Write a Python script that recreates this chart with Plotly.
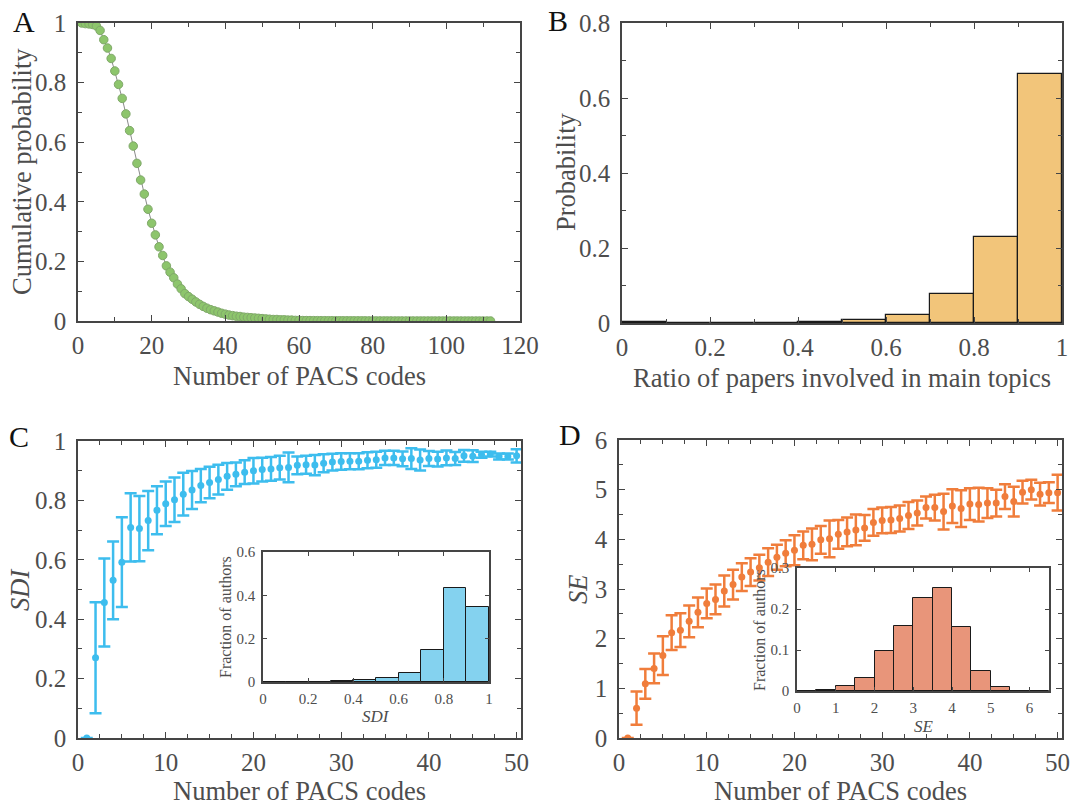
import plotly.graph_objects as go

W, H = 1075, 805
FONT = "Liberation Serif, Times New Roman, Times, serif"

# ---------------- data ----------------
# Panel A: cumulative probability vs number of PACS codes
a_x = list(range(1, 113))
a_y = [1.0, 0.998, 0.997, 0.995, 0.99, 0.975, 0.944, 0.916, 0.881, 0.839,
       0.794, 0.747, 0.695, 0.639, 0.587, 0.529, 0.473, 0.426, 0.375, 0.328,
       0.289, 0.249, 0.22, 0.185, 0.164, 0.145, 0.124, 0.108, 0.092, 0.082,
       0.073, 0.064, 0.056, 0.049, 0.043, 0.038, 0.034, 0.030, 0.026, 0.023,
       0.020, 0.018, 0.016, 0.015, 0.013, 0.012, 0.011, 0.010, 0.009, 0.008,
       0.007, 0.006, 0.005, 0.005, 0.004, 0.004, 0.003, 0.003, 0.002, 0.002,
       0.0015, 0.0014, 0.0013, 0.0012, 0.0011, 0.001, 0.001, 0.0009, 0.0009, 0.0008,
       0.0008, 0.0007, 0.0007, 0.0006, 0.0006, 0.0005, 0.0005, 0.0005, 0.0004, 0.0004,
       0.0004, 0.0003, 0.0003, 0.0003, 0.0003, 0.0002, 0.0002, 0.0002, 0.0002, 0.0002,
       0.0002, 0.0001, 0.0001, 0.0001, 0.0001, 0.0001, 0.0001, 0.0001, 0.0001, 0.0001,
       0.0001, 0.0001, 0.0001, 0.0, 0.0, 0.0, 0.0, 0.0, 0.0, 0.0,
       0.0, 0.0]

# Panel B: histogram of ratio of papers involved in main topics
b_bins = [0.05, 0.15, 0.25, 0.35, 0.45, 0.55, 0.65, 0.75, 0.85, 0.95]
b_prob = [0.002, 0.001, 0.001, 0.001, 0.002, 0.007, 0.022, 0.078, 0.229, 0.665]

# Panel C: SDI mean and error vs number of PACS codes
c_x = list(range(1, 51))
c_mean = [0, 0.27, 0.456, 0.531, 0.592, 0.709, 0.705, 0.732, 0.767, 0.789,
          0.802, 0.821, 0.835, 0.85, 0.86, 0.87, 0.881, 0.888, 0.895, 0.9,
          0.904, 0.906, 0.91, 0.911, 0.918, 0.92, 0.919, 0.925, 0.929, 0.931,
          0.932, 0.932, 0.935, 0.937, 0.943, 0.943, 0.94, 0.941, 0.936, 0.941,
          0.939, 0.943, 0.941, 0.95, 0.949, 0.954, 0.956, 0.948, 0.948, 0.95]
c_err = [0, 0.187, 0.148, 0.131, 0.151, 0.115, 0.11, 0.1, 0.081, 0.075,
         0.075, 0.072, 0.064, 0.056, 0.053, 0.05, 0.045, 0.04, 0.04, 0.043,
         0.04, 0.04, 0.04, 0.05, 0.03, 0.03, 0.034, 0.03, 0.028, 0.028,
         0.027, 0.027, 0.027, 0.027, 0.024, 0.024, 0.025, 0.035, 0.035, 0.025,
         0.025, 0.025, 0.022, 0.02, 0.02, 0.01, 0.008, 0.01, 0.01, 0.022]

# Panel C inset: distribution of SDI
ci_bins = [0.05, 0.15, 0.25, 0.35, 0.45, 0.55, 0.65, 0.75, 0.85, 0.95]
ci_frac = [0.001, 0.001, 0.002, 0.004, 0.008, 0.019, 0.04, 0.148, 0.435, 0.344]

# Panel D: SE mean and error vs number of PACS codes
d_x = list(range(1, 51))
d_mean = [0, 0.60, 1.09, 1.40, 1.66, 2.12, 2.17, 2.35, 2.53, 2.71,
          2.79, 2.96, 3.09, 3.24, 3.34, 3.43, 3.54, 3.64, 3.72, 3.78,
          3.88, 3.90, 3.99, 4.01, 4.10, 4.15, 4.19, 4.23, 4.34, 4.38,
          4.39, 4.42, 4.48, 4.53, 4.64, 4.64, 4.56, 4.67, 4.62, 4.71,
          4.70, 4.73, 4.73, 4.86, 4.76, 4.95, 5.0, 4.91, 4.94, 4.94]
d_err = [0, 0.335, 0.30, 0.30, 0.39, 0.35, 0.34, 0.32, 0.30, 0.30,
         0.30, 0.31, 0.30, 0.28, 0.28, 0.26, 0.28, 0.25, 0.26, 0.30,
         0.28, 0.32, 0.28, 0.37, 0.29, 0.29, 0.31, 0.26, 0.27, 0.26,
         0.26, 0.26, 0.27, 0.25, 0.22, 0.26, 0.36, 0.34, 0.37, 0.32,
         0.34, 0.30, 0.27, 0.25, 0.30, 0.23, 0.20, 0.23, 0.21, 0.36]

# Panel D inset: distribution of SE
di_bins = [0.25, 0.75, 1.25, 1.75, 2.25, 2.75, 3.25, 3.75, 4.25, 4.75, 5.25, 5.75, 6.25]
di_frac = [0.0, 0.003, 0.012, 0.031, 0.098, 0.159, 0.227, 0.251, 0.157, 0.049, 0.009, 0.001, 0.0]

# ---------------- figure ----------------
GREEN = "#8dc56c"
BLUE = "#3dbdee"
ORANGE = "#f07d3b"
AXC = "#454545"
TXC = "#4d4d4d"

fig = go.Figure()

fig.add_trace(go.Scatter(x=a_x, y=a_y, mode="lines+markers",
                         line=dict(color="#8a8a8a", width=1),
                         marker=dict(size=8.5, color=GREEN, line=dict(color="#80a86a", width=1)),
                         xaxis="x", yaxis="y", showlegend=False))

fig.add_trace(go.Bar(x=b_bins, y=b_prob, width=0.1,
                     marker=dict(color="#f2c57a", line=dict(color="#1a1a1a", width=1.2)),
                     xaxis="x2", yaxis="y2", showlegend=False))

fig.add_trace(go.Scatter(x=c_x, y=c_mean, mode="markers",
                         marker=dict(size=7, color=BLUE),
                         error_y=dict(type="data", array=c_err, color=BLUE, thickness=2.5, width=6),
                         xaxis="x3", yaxis="y3", showlegend=False))

fig.add_trace(go.Scatter(x=d_x, y=d_mean, mode="markers",
                         marker=dict(size=7, color=ORANGE),
                         error_y=dict(type="data", array=d_err, color=ORANGE, thickness=2.5, width=6),
                         xaxis="x4", yaxis="y4", showlegend=False))

fig.add_trace(go.Bar(x=ci_bins, y=ci_frac, width=0.1,
                     marker=dict(color="#84d2ef", line=dict(color="#1a1a1a", width=1)),
                     xaxis="x5", yaxis="y5", showlegend=False))

fig.add_trace(go.Bar(x=di_bins, y=di_frac, width=0.5,
                     marker=dict(color="#e8957a", line=dict(color="#1a1a1a", width=1)),
                     xaxis="x6", yaxis="y6", showlegend=False))


def px_x(p):
    return p / W


def px_y(p):
    return 1 - p / H


def axis(x0, x1, rng, dtick, mdtick, anchor, size=25, ticklen=6, horiz=True, standoff=None):
    if standoff is None:
        standoff = 1 if horiz else 5
    d = dict(
        domain=[px_x(x0), px_x(x1)] if horiz else [px_y(x1), px_y(x0)],
        range=rng, anchor=anchor, autorange=False, automargin=False,
        showline=True, linecolor=AXC, linewidth=1.5, mirror="allticks",
        ticks="inside", ticklen=ticklen, tickwidth=1.2, tickcolor=AXC,
        tick0=0, dtick=dtick, showgrid=False, zeroline=False,
        tickfont=dict(family=FONT, size=size, color=TXC),
        ticklabelstandoff=standoff,
    )
    if mdtick:
        d["minor"] = dict(dtick=mdtick, tick0=0, ticks="inside", ticklen=ticklen - 2,
                          tickwidth=1.2, tickcolor=AXC, showgrid=False)
    return d


layout = dict(
    template="none",
    width=W, height=H, margin=dict(l=0, r=0, t=0, b=0, autoexpand=False),
    paper_bgcolor="white", plot_bgcolor="rgba(0,0,0,0)",
    bargap=0, showlegend=False,
    xaxis=axis(78, 520, [0, 120], 20, 10, "y"),
    yaxis=axis(23, 321, [0, 1], 0.2, 0.1, "x", horiz=False),
    xaxis2=axis(622, 1062, [0, 1], 0.2, 0.1, "y2"),
    yaxis2=axis(23, 323, [0, 0.8], 0.2, 0.1, "x2", horiz=False),
    xaxis3=axis(78, 521, [0, 50.5], 10, 2.5, "y3"),
    yaxis3=axis(441, 738, [0, 1], 0.2, 0.1, "x3", horiz=False),
    xaxis4=axis(619, 1062, [0, 50.5], 10, 2.5, "y4"),
    yaxis4=axis(440, 738, [0, 6], 1, 0.5, "x4", horiz=False),
    xaxis5=axis(263, 489, [0, 1], 0.2, None, "y5", size=15, ticklen=4, standoff=2),
    yaxis5=axis(552, 682, [0, 0.6], 0.2, None, "x5", size=15, ticklen=4, horiz=False, standoff=3),
    xaxis6=axis(797, 1049, [0, 6.5], 1, None, "y6", size=15, ticklen=4, standoff=2),
    yaxis6=axis(568, 691, [0, 0.3], 0.1, None, "x6", size=15, ticklen=4, horiz=False, standoff=3),
)
fig.update_layout(**layout)

ann = []


def text(x, y, s, size, angle=0, color=TXC, italic=False):
    if italic:
        s = "<i>" + s + "</i>"
    ann.append(dict(x=px_x(x), y=px_y(y), xref="paper", yref="paper", text=s,
                    showarrow=False, textangle=angle, xanchor="center", yanchor="middle",
                    font=dict(family=FONT, size=size, color=color)))


# panel letters
text(24, 22, "A", 30, color="#111111")
text(558, 21, "B", 30, color="#111111")
text(19, 437, "C", 30, color="#111111")
text(570, 434, "D", 30, color="#111111")

# axis titles
text(299, 376, "Number of PACS codes", 26.5)
text(22, 172, "Cumulative probability", 26.5, angle=-90)
text(842, 378, "Ratio of papers involved in main topics", 26.5)
text(566, 172, "Probability", 26.5, angle=-90)
text(299, 791, "Number of PACS codes", 26.5)
text(20, 590, "SDI", 26.5, angle=-90, italic=True)
text(840, 791, "Number of PACS codes", 26.5)
text(578, 590, "SE", 26.5, angle=-90, italic=True)

# inset titles
text(225, 617, "Fraction of authors", 16, angle=-90)
text(376, 716, "SDI", 17, italic=True)
text(759, 630, "Fraction of authors", 16, angle=-90)
text(924, 726, "SE", 17, italic=True)

fig.update_layout(annotations=ann)

fig.write_html("out.html", config={"displayModeBar": False},
               post_script="document.body.style.margin='0';document.body.style.overflow='hidden';")
